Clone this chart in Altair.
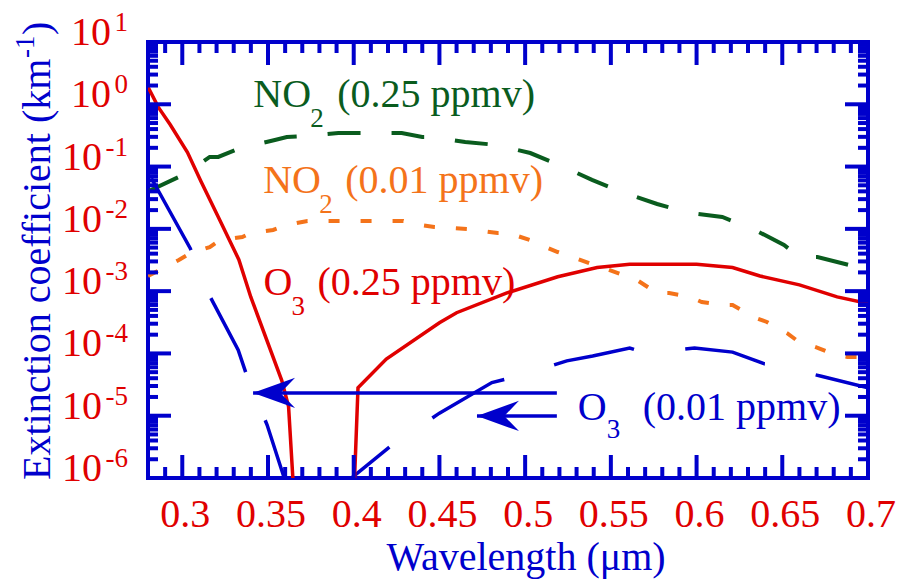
import altair as alt
import pandas as pd

# ---------------- data ----------------
# O3 (0.25 ppmv) - red solid
o3_hi_wl = [0.280, 0.286, 0.293, 0.303, 0.311, 0.321, 0.333, 0.340, 0.358, 0.362, 0.370,
            0.390, 0.4025, 0.419, 0.450, 0.460, 0.489, 0.519, 0.542, 0.561, 0.600, 0.621,
            0.637, 0.660, 0.682, 0.700]
o3_hi_ext = [1.9, 0.9, 0.47, 0.17, 0.057, 0.0155, 0.0032, 8.0e-4, 3.7e-5, 1.4e-5, 3e-9,
             2.5e-14, 2.8e-5, 8.1e-5, 3.1e-4, 4.5e-4, 9.3e-4, 1.7e-3, 2.4e-3, 2.7e-3, 2.7e-3,
             2.4e-3, 1.75e-3, 1.26e-3, 8.1e-4, 6.3e-4]

# O3 (0.01 ppmv) - blue long dash (two visible pieces)
o3_lo_wl_a = [0.282, 0.3046, 0.3163, 0.3326, 0.3379, 0.3495, 0.360]
o3_lo_ext_a = [0.065, 4.9e-3, 8.1e-4, 1.14e-4, 4.2e-5, 7.1e-6, 9e-7]
o3_lo_wl_b = [0.390, 0.421, 0.450, 0.4806, 0.4957, 0.5243, 0.5394, 0.561, 0.5697, 0.5988,
              0.621, 0.6396, 0.6443, 0.6728, 0.700]
o3_lo_ext_b = [6.4e-7, 3.15e-6, 1.1e-5, 3.4e-5, 4.3e-5, 7.6e-5, 9.1e-5, 1.22e-4, 1.02e-4,
               1.22e-4, 1.05e-4, 6.8e-5, 6.6e-5, 4.3e-5, 2.8e-5]

# NO2 (0.25 ppmv) - dark green long dash
no2_hi_wl = [0.280, 0.303, 0.316, 0.321, 0.334, 0.354, 0.361, 0.372, 0.391, 0.428, 0.440,
             0.446, 0.465, 0.4835, 0.503, 0.520, 0.539, 0.558, 0.577, 0.596, 0.615, 0.633,
             0.651, 0.660, 0.6705, 0.689, 0.700]
no2_hi_ext = [0.040, 0.079, 0.143, 0.143, 0.199, 0.267, 0.299, 0.31, 0.346, 0.346, 0.299,
              0.299, 0.248, 0.222, 0.165, 0.106, 0.061, 0.0377, 0.0251, 0.018, 0.0155,
              0.00995, 0.0055, 0.00353, 0.00353, 0.00263, 0.00203]

# NO2 (0.01 ppmv) - orange short dash
no2_lo_wl = [0.280, 0.298, 0.305, 0.316, 0.322, 0.335, 0.340, 0.353, 0.361, 0.373, 0.429,
             0.435, 0.447, 0.466, 0.484, 0.490, 0.503, 0.509, 0.519, 0.528, 0.541, 0.546,
             0.559, 0.566, 0.577, 0.584, 0.596, 0.603, 0.615, 0.621, 0.633, 0.641, 0.653,
             0.659, 0.671, 0.678, 0.688, 0.700]
no2_lo_ext = [1.75e-3, 3.16e-3, 4.1e-3, 5.1e-3, 6.6e-3, 7.4e-3, 8.6e-3, 9.6e-3, 1.15e-2,
              1.34e-2, 1.34e-2, 1.2e-2, 1.07e-2, 9.95e-3, 8.6e-3, 8.6e-3, 6.6e-3, 5.5e-3,
              4.25e-3, 3.5e-3, 2.6e-3, 2.35e-3, 1.75e-3, 1.46e-3, 9.3e-4, 9.3e-4, 8.1e-4,
              6.7e-4, 6.0e-4, 6.0e-4, 3.85e-4, 3.2e-4, 2.1e-4, 1.58e-4, 1.22e-4, 1.02e-4,
              8.8e-5, 8.8e-5]

# annotation labels (anchor in data units)
ann_main = ["NO", "NO", "O", "O"]
ann_sub = ["2", "2", "3", "3"]
ann_rest = ["(0.25 ppmv)", "(0.01 ppmv)", "(0.25 ppmv)", "(0.01 ppmv)"]
ann_wl = [0.3414, 0.3472, 0.3474, 0.5307]
ann_ext = [0.905, 0.0377, 8.7e-4, 8.5e-6]

# arrows
arrow_tip_wl = [0.3413, 0.4719]
arrow_tail_wl = [0.5185, 0.5185]
arrow_ext = [2.32e-5, 9.9e-6]

# axis ticks / labels
x_major = [0.30, 0.35, 0.40, 0.45, 0.50, 0.55, 0.60, 0.65, 0.70]
x_labels = ["0.3", "0.35", "0.4", "0.45", "0.5", "0.55", "0.6", "0.65", "0.7"]
y_exps = [1, 0, -1, -2, -3, -4, -5, -6]

# ---------------- styling ----------------
FONT = "Liberation Serif"
BLUE = "#0000cc"
RED = "#e00000"
GREEN = "#0a5c1e"
ORANGE = "#f4731a"
ANN_COLORS = [GREEN, ORANGE, RED, BLUE]
SUB_DX = [57, 56, 28, 29]
SUB_DY = [20, 20, 20, 18]
REST_DX = [84, 82, 54, 65]

W, H = 720, 436
XS = alt.Scale(domain=[0.28, 0.70], nice=False, zero=False)
YS = alt.Scale(type="log", domain=[1e-6, 10], nice=False)


def X(field):
    return alt.X(field, type="quantitative", scale=XS, axis=None)


def Y(field):
    return alt.Y(field, type="quantitative", scale=YS, axis=None)


def series(wl, ext, color, width, dash=None, offset=0):
    df = pd.DataFrame({"wl": wl, "ext": ext})
    kw = dict(color=color, strokeWidth=width, clip=True, strokeCap="butt")
    if dash:
        kw["strokeDash"] = dash
        kw["strokeDashOffset"] = offset
    return alt.Chart(df).mark_line(**kw).encode(x=X("wl"), y=Y("ext"))


layers = []
layers.append(series(no2_lo_wl, no2_lo_ext, ORANGE, 4, [11, 21], 0))
layers.append(series(no2_hi_wl, no2_hi_ext, GREEN, 4, [33, 31], 0))
layers.append(series(o3_lo_wl_a, o3_lo_ext_a, BLUE, 3.5, [82, 52], 0))
layers.append(series(o3_lo_wl_b, o3_lo_ext_b, BLUE, 3.5, [82, 52], 14))
layers.append(series(o3_hi_wl, o3_hi_ext, RED, 3.5))

# arrows
arr = pd.DataFrame({"tip": arrow_tip_wl, "tail": arrow_tail_wl, "ext": arrow_ext})
layers.append(alt.Chart(arr).mark_rule(color=BLUE, strokeWidth=3.5).encode(
    x=X("tip"), x2="tail:Q", y=Y("ext")))
layers.append(alt.Chart(arr).mark_point(
    shape="M0,0L2,-0.72L1.3,0L2,0.72Z", size=1764, filled=True, color=BLUE, opacity=1
).encode(x=X("tip"), y=Y("ext")))

# ticks (inward, on all four sides)
x_minor = []
for i in range(1, 42):
    v = round(0.28 + 0.01 * i, 2)
    if all(abs(v - m) > 1e-9 for m in x_major):
        x_minor.append(v)
y_major = [10.0 ** e for e in y_exps]
y_minor = [m * 10.0 ** k for k in range(-6, 1) for m in range(2, 10)]


def xticks(vals, length):
    base = alt.Chart(pd.DataFrame({"v": vals}))
    return [
        base.mark_rule(color=BLUE, strokeWidth=4).encode(
            x=X("v"), y=alt.value(H), y2=alt.value(H - length)),
        base.mark_rule(color=BLUE, strokeWidth=4).encode(
            x=X("v"), y=alt.value(0), y2=alt.value(length)),
    ]


def yticks(vals, length):
    base = alt.Chart(pd.DataFrame({"v": vals}))
    return [
        base.mark_rule(color=BLUE, strokeWidth=4).encode(
            y=Y("v"), x=alt.value(0), x2=alt.value(length)),
        base.mark_rule(color=BLUE, strokeWidth=4).encode(
            y=Y("v"), x=alt.value(W - length), x2=alt.value(W)),
    ]


layers += xticks(x_major, 23) + xticks(x_minor, 11)
layers += yticks(y_major, 23) + yticks(y_minor, 10)

# x tick labels
xl = pd.DataFrame({"v": x_major, "t": x_labels})
layers.append(alt.Chart(xl).mark_text(
    font=FONT, fontSize=40, color=RED, align="center", baseline="alphabetic", dx=3
).encode(x=X("v"), y=alt.value(H + 49), text="t:N"))

# y tick labels: "10" + superscript exponent
yl = pd.DataFrame({"v": y_major, "e": [str(e) for e in y_exps]})
ych = alt.Chart(yl)
layers.append(ych.mark_text(
    font=FONT, fontSize=27, color=RED, align="right", baseline="alphabetic", dx=-20, dy=-11
).encode(y=Y("v"), x=alt.value(0), text="e:N"))
layers.append(ych.transform_filter("datum.v >= 1").mark_text(
    font=FONT, fontSize=40, color=RED, align="right", baseline="alphabetic", dx=-37, dy=3
).encode(y=Y("v"), x=alt.value(0), text=alt.value("10")))
layers.append(ych.transform_filter("datum.v < 1").mark_text(
    font=FONT, fontSize=40, color=RED, align="right", baseline="alphabetic", dx=-46, dy=3
).encode(y=Y("v"), x=alt.value(0), text=alt.value("10")))

# annotations
for i in range(len(ann_main)):
    df = pd.DataFrame({"wl": [ann_wl[i]], "ext": [ann_ext[i]], "m": [ann_main[i]],
                       "s": [ann_sub[i]], "r": [ann_rest[i]]})
    b = alt.Chart(df)
    c = ANN_COLORS[i]
    layers.append(b.mark_text(font=FONT, fontSize=40, color=c, align="left",
                              baseline="alphabetic").encode(x=X("wl"), y=Y("ext"), text="m:N"))
    layers.append(b.mark_text(font=FONT, fontSize=27, color=c, align="left",
                              baseline="alphabetic", dx=SUB_DX[i], dy=SUB_DY[i]
                              ).encode(x=X("wl"), y=Y("ext"), text="s:N"))
    layers.append(b.mark_text(font=FONT, fontSize=40, color=c, align="left",
                              baseline="alphabetic", dx=REST_DX[i]
                              ).encode(x=X("wl"), y=Y("ext"), text="r:N"))

# axis titles
title_df = pd.DataFrame({"a": [0]})
tb = alt.Chart(title_df)
layers.append(tb.mark_text(font=FONT, fontSize=40, color=BLUE, align="center",
                           baseline="alphabetic").encode(
    x=alt.value(378), y=alt.value(H + 92), text=alt.value("Wavelength (μm)")))
layers.append(tb.mark_text(font=FONT, fontSize=40, color=BLUE, align="left",
                           baseline="alphabetic", angle=270).encode(
    x=alt.value(-98), y=alt.value(438), text=alt.value("Extinction coefficient (km")))
layers.append(tb.mark_text(font=FONT, fontSize=27, color=BLUE, align="left",
                           baseline="alphabetic", angle=270).encode(
    x=alt.value(-114), y=alt.value(16), text=alt.value("-1")))
layers.append(tb.mark_text(font=FONT, fontSize=40, color=BLUE, align="left",
                           baseline="alphabetic", angle=270).encode(
    x=alt.value(-98), y=alt.value(-7), text=alt.value(")")))

chart = alt.layer(*layers).properties(
    width=W, height=H,
    autosize=alt.AutoSizeParams(type="none"),
    padding={"left": 148, "top": 42, "right": 32, "bottom": 101},
    background="white",
).configure_view(stroke=BLUE, strokeWidth=4)

chart.save("out.html", embed_options={"renderer": "svg", "actions": False})
